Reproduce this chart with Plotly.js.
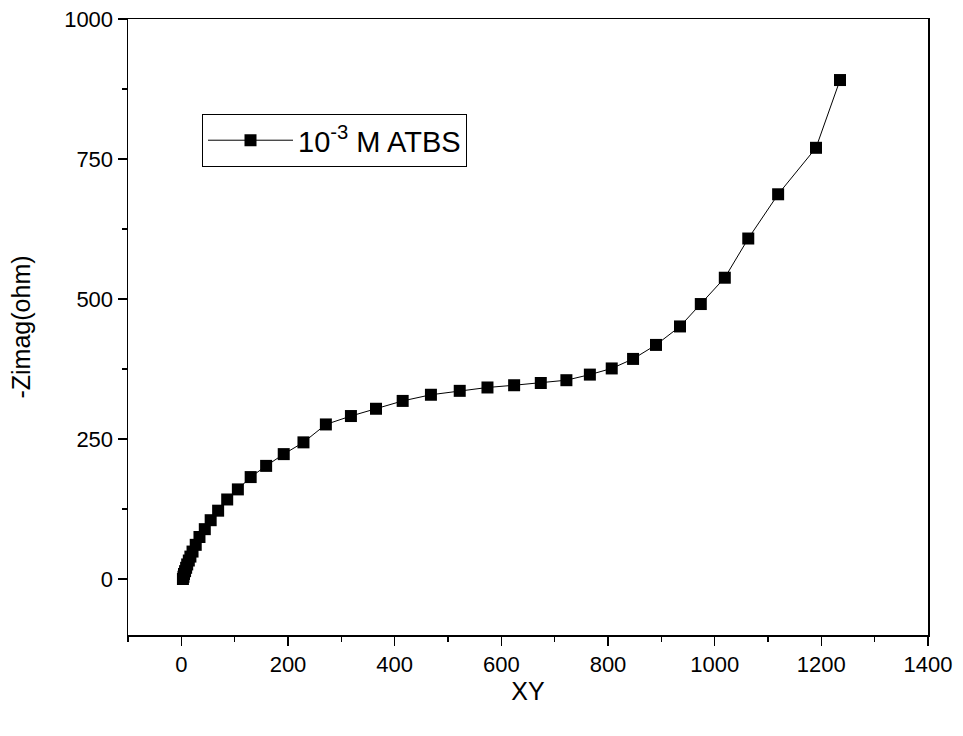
<!DOCTYPE html>
<html>
<head>
<meta charset="utf-8">
<script src="https://cdn.plot.ly/plotly-3.0.1.min.js"></script>
<style>html,body{margin:0;padding:0;background:#fff;}#chart{width:963px;height:736px;}</style>
</head>
<body>
<div id="chart"></div>
<script>
const seriesName = "10<sup>-3</sup> M ATBS";
const zReal = [3, 4, 5, 7, 9, 11, 14, 17, 21, 27, 34, 44, 55, 69, 86, 106, 130, 159, 192, 229, 271, 318, 365, 415, 468, 522, 574, 624, 674, 722, 766, 807, 847, 890, 935, 974, 1019, 1063, 1119, 1190, 1235];
const zImag = [0, 4, 9, 14, 20, 26, 33, 40, 49, 61, 75, 89, 105, 122, 142, 160, 182, 202, 223, 244, 276, 291, 304, 318, 329, 336, 342, 346, 350, 355, 365, 376, 393, 418, 451, 491, 538, 608, 687, 770, 891];
const xTicks = [0, 200, 400, 600, 800, 1000, 1200, 1400];
const yTicks = [0, 250, 500, 750, 1000];

const font = "Liberation Sans, Arial, sans-serif";
const trace = {
  x: zReal, y: zImag, type: 'scatter', mode: 'lines+markers', name: seriesName,
  line: {color: '#000', width: 1},
  marker: {symbol: 'square', size: 12, color: '#000'}
};
const layout = {
  width: 963, height: 736,
  margin: {l: 128, r: 35, t: 19, b: 101},
  paper_bgcolor: '#fff', plot_bgcolor: '#fff',
  font: {family: font, color: '#000', size: 22},
  showlegend: true,
  legend: {x: 0.0925, y: 0.846, xanchor: 'left', yanchor: 'top', bordercolor: '#000', borderwidth: 1, bgcolor: '#fff',
           itemwidth: 85, tracegroupgap: 0, font: {size: 29, family: font}},
  xaxis: {
    range: [-100, 1400], tickvals: xTicks, ticktext: xTicks.map(String),
    ticks: 'outside', ticklen: 9, tickwidth: 1.5, tickcolor: '#000',
    minor: {dtick: 100, tick0: 0, ticks: 'outside', ticklen: 5, tickwidth: 1.5, tickcolor: '#000', showgrid: false},
    showline: true, linecolor: '#000', linewidth: 1.5, mirror: true,
    showgrid: false, zeroline: false,
    tickfont: {size: 22},
    title: {text: 'XY', font: {size: 25}, standoff: 5}
  },
  yaxis: {
    range: [-100, 1000], tickvals: yTicks, ticktext: yTicks.map(String),
    ticks: 'outside', ticklen: 9, tickwidth: 1.5, tickcolor: '#000',
    minor: {dtick: 125, tick0: 0, ticks: 'outside', ticklen: 5, tickwidth: 1.5, tickcolor: '#000', showgrid: false},
    showline: true, linecolor: '#000', linewidth: 1.5, mirror: true,
    showgrid: false, zeroline: false,
    tickfont: {size: 22},
    title: {text: '-Zimag(ohm)', font: {size: 25}, standoff: 26}
  }
};
Plotly.newPlot('chart', [trace], layout, {displayModeBar: false, staticPlot: true});
</script>
</body>
</html>
